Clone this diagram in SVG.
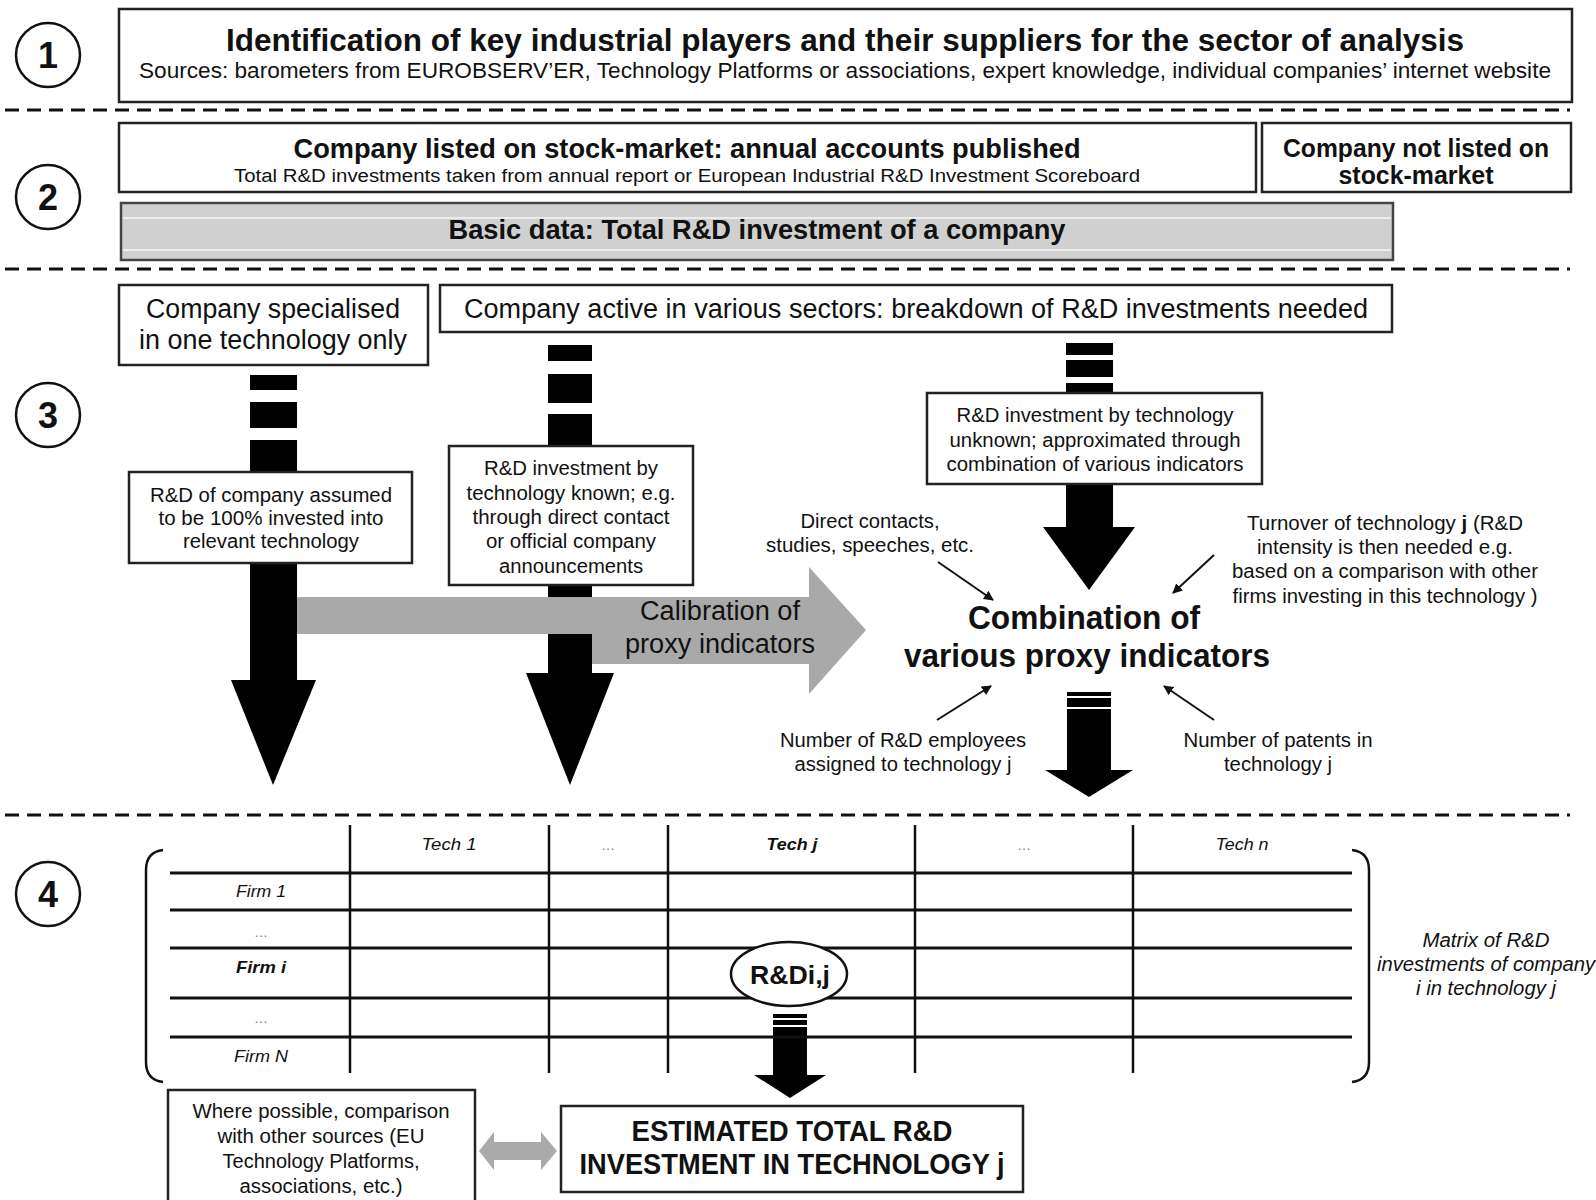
<svg xmlns="http://www.w3.org/2000/svg" width="1596" height="1200" viewBox="0 0 1596 1200">
<defs>
<marker id="ah" viewBox="0 0 10 10" refX="9" refY="5" markerWidth="5" markerHeight="5" orient="auto"><path d="M0,0 L10,5 L0,10 z" fill="#111"/></marker>
</defs>
<style>
text{font-family:"Liberation Sans",Arial,sans-serif;fill:#111;text-anchor:middle}
.box{fill:#fff;stroke:#222;stroke-width:2.5}
.b{font-weight:bold}
.i{font-style:italic}
.dash{stroke:#111;stroke-width:3;stroke-dasharray:14 8;fill:none}
.num{fill:#fff;stroke:#111;stroke-width:2.5}
.blk{fill:#000}
.hl{stroke:#111;stroke-width:3}
.vl{stroke:#111;stroke-width:2.5}
.sa{stroke:#111;stroke-width:2;marker-end:url(#ah)}
.dots{fill:#777}
</style>
<rect width="1596" height="1200" fill="#fff"/>

<g id="separators">
<line class="dash" x1="5" y1="110" x2="1570" y2="110"/>
<line class="dash" x1="5" y1="269" x2="1570" y2="269"/>
<line class="dash" x1="5" y1="815" x2="1570" y2="815"/>
</g>

<g id="step-numbers">
<circle class="num" cx="48" cy="55" r="32"/><text class="b" x="48" y="68" font-size="36">1</text>
<circle class="num" cx="48" cy="197" r="32"/><text class="b" x="48" y="210" font-size="36">2</text>
<circle class="num" cx="48" cy="415" r="32"/><text class="b" x="48" y="428" font-size="36">3</text>
<circle class="num" cx="48" cy="894" r="32"/><text class="b" x="48" y="907" font-size="36">4</text>
</g>

<g id="connectors">
<rect class="blk" x="250" y="375" width="47" height="15"/>
<rect class="blk" x="250" y="402" width="47" height="26"/>
<rect class="blk" x="250" y="440" width="47" height="241"/>
<polygon class="blk" points="231,680 316,680 273,785"/>
<rect class="blk" x="548" y="345" width="44" height="16"/>
<rect class="blk" x="548" y="374" width="44" height="29"/>
<rect class="blk" x="548" y="414" width="44" height="260"/>
<polygon class="blk" points="526,673 614,673 570,785"/>
<rect class="blk" x="1066" y="343" width="47" height="12"/>
<rect class="blk" x="1066" y="360" width="47" height="17"/>
<rect class="blk" x="1066" y="383" width="47" height="145"/>
<polygon class="blk" points="1043,527 1135,527 1089,590"/>
<rect class="blk" x="1067" y="692" width="44" height="4"/>
<rect class="blk" x="1067" y="698" width="44" height="9"/>
<rect class="blk" x="1067" y="709" width="44" height="62"/>
<polygon class="blk" points="1045,770 1133,770 1089,797"/>
<rect class="blk" x="773" y="1014" width="34" height="4"/>
<rect class="blk" x="773" y="1020" width="34" height="5"/>
<rect class="blk" x="773" y="1027" width="34" height="49"/>
<polygon class="blk" points="754,1075 826,1075 790,1098"/>
<polygon fill="#a9a9a9" points="297,597 809,597 809,567 866,630 809,694 809,664 592,664 592,634 297,634"/>
<line class="sa" x1="938" y1="562" x2="993" y2="600"/>
<line class="sa" x1="1214" y1="555" x2="1173" y2="593"/>
<line class="sa" x1="937" y1="720" x2="991" y2="686"/>
<line class="sa" x1="1214" y1="720" x2="1164" y2="686"/>
<polygon fill="#aaaaaa" points="479,1151 494,1132 494,1142 541,1142 541,1132 557,1151 541,1170 541,1160 494,1160 494,1170"/>
</g>

<g id="step1">
<rect class="box" x="119" y="9" width="1453" height="93"/>
<text class="b" x="845" y="51" font-size="32" textLength="1238" lengthAdjust="spacingAndGlyphs">Identification of key industrial players and their suppliers for the sector of analysis</text>
<text x="845" y="78" font-size="22" textLength="1412" lengthAdjust="spacingAndGlyphs">Sources: barometers from EUROBSERV’ER, Technology Platforms or associations, expert knowledge, individual companies’ internet website</text>
</g>

<g id="listed">
<rect class="box" x="119" y="123" width="1137" height="69"/>
<text class="b" x="687" y="158" font-size="27" textLength="787" lengthAdjust="spacingAndGlyphs">Company listed on stock-market: annual accounts published</text>
<text x="687" y="182" font-size="18" textLength="906" lengthAdjust="spacingAndGlyphs">Total R&amp;D investments taken from annual report or European Industrial R&amp;D Investment Scoreboard</text>
</g>

<g id="not-listed">
<rect class="box" x="1262" y="123" width="309" height="69"/>
<text class="b" x="1416" y="157" font-size="25" textLength="266" lengthAdjust="spacingAndGlyphs">Company not listed on</text>
<text class="b" x="1416" y="184" font-size="25" textLength="155" lengthAdjust="spacingAndGlyphs">stock-market</text>
</g>

<g id="basic-data">
<rect x="121" y="203" width="1272" height="57" fill="#d0d0d0" stroke="#444" stroke-width="2.5"/>
<line x1="123" y1="218" x2="1391" y2="218" stroke="#ececec" stroke-width="2"/>
<line x1="123" y1="250" x2="1391" y2="250" stroke="#ececec" stroke-width="2"/>
<text class="b" x="757" y="239" font-size="27" textLength="617" lengthAdjust="spacingAndGlyphs">Basic data: Total R&amp;D investment of a company</text>
</g>

<g id="specialised">
<rect class="box" x="119" y="285" width="309" height="80"/>
<text x="273" y="318" font-size="27" textLength="254" lengthAdjust="spacingAndGlyphs">Company specialised</text>
<text x="273" y="349" font-size="27" textLength="268" lengthAdjust="spacingAndGlyphs">in one technology only</text>
</g>

<g id="various-sectors">
<rect class="box" x="440" y="285" width="952" height="47"/>
<text x="916" y="318" font-size="27" textLength="904" lengthAdjust="spacingAndGlyphs">Company active in various sectors: breakdown of R&amp;D investments needed</text>
</g>

<g id="assumed-100">
<rect class="box" x="129" y="472" width="283" height="91"/>
<text x="271" y="502" font-size="20" textLength="242" lengthAdjust="spacingAndGlyphs">R&amp;D of company assumed</text>
<text x="271" y="525" font-size="20" textLength="225" lengthAdjust="spacingAndGlyphs">to be 100% invested into</text>
<text x="271" y="548" font-size="20" textLength="176" lengthAdjust="spacingAndGlyphs">relevant technology</text>
</g>

<g id="known">
<rect class="box" x="449" y="446" width="244" height="139"/>
<text x="571" y="475" font-size="20" textLength="174" lengthAdjust="spacingAndGlyphs">R&amp;D investment by</text>
<text x="571" y="500" font-size="20" textLength="209" lengthAdjust="spacingAndGlyphs">technology known; e.g.</text>
<text x="571" y="524" font-size="20" textLength="197" lengthAdjust="spacingAndGlyphs">through direct contact</text>
<text x="571" y="548" font-size="20" textLength="170" lengthAdjust="spacingAndGlyphs">or official company</text>
<text x="571" y="573" font-size="20" textLength="144" lengthAdjust="spacingAndGlyphs">announcements</text>
</g>

<g id="unknown">
<rect class="box" x="927" y="393" width="335" height="91"/>
<text x="1095" y="422" font-size="20" textLength="277" lengthAdjust="spacingAndGlyphs">R&amp;D investment by technology</text>
<text x="1095" y="447" font-size="20" textLength="291" lengthAdjust="spacingAndGlyphs">unknown; approximated through</text>
<text x="1095" y="471" font-size="20" textLength="297" lengthAdjust="spacingAndGlyphs">combination of various indicators</text>
</g>

<g id="calibration">
<text x="720" y="620" font-size="27" textLength="160" lengthAdjust="spacingAndGlyphs">Calibration of</text>
<text x="720" y="653" font-size="27" textLength="190" lengthAdjust="spacingAndGlyphs">proxy indicators</text>
</g>

<g id="combination">
<text class="b" x="1084" y="629" font-size="33" textLength="232" lengthAdjust="spacingAndGlyphs">Combination of</text>
<text class="b" x="1087" y="667" font-size="33" textLength="366" lengthAdjust="spacingAndGlyphs">various proxy indicators</text>
</g>

<g id="direct-contacts">
<text x="870" y="528" font-size="20" textLength="139" lengthAdjust="spacingAndGlyphs">Direct contacts,</text>
<text x="870" y="552" font-size="20" textLength="208" lengthAdjust="spacingAndGlyphs">studies, speeches, etc.</text>
</g>

<g id="turnover">
<text x="1385" y="530" font-size="20" textLength="276" lengthAdjust="spacingAndGlyphs">Turnover of technology <tspan class="b">j</tspan> (R&amp;D</text>
<text x="1385" y="554" font-size="20" textLength="256" lengthAdjust="spacingAndGlyphs">intensity is then needed e.g.</text>
<text x="1385" y="578" font-size="20" textLength="306" lengthAdjust="spacingAndGlyphs">based on a comparison with other</text>
<text x="1385" y="603" font-size="20" textLength="305" lengthAdjust="spacingAndGlyphs">firms investing in this technology )</text>
</g>

<g id="employees">
<text x="903" y="747" font-size="20" textLength="246" lengthAdjust="spacingAndGlyphs">Number of R&amp;D employees</text>
<text x="903" y="771" font-size="20" textLength="217" lengthAdjust="spacingAndGlyphs">assigned to technology j</text>
</g>

<g id="patents">
<text x="1278" y="747" font-size="20" textLength="189" lengthAdjust="spacingAndGlyphs">Number of patents in</text>
<text x="1278" y="771" font-size="20" textLength="108" lengthAdjust="spacingAndGlyphs">technology j</text>
</g>

<g id="matrix">
<path d="M163,850 Q146,852 146,870 L146,1062 Q146,1080 163,1082" fill="none" stroke="#111" stroke-width="2.5"/>
<path d="M1352,850 Q1369,852 1369,870 L1369,1062 Q1369,1080 1352,1082" fill="none" stroke="#111" stroke-width="2.5"/>
<line class="vl" x1="350" y1="825" x2="350" y2="1073"/>
<line class="vl" x1="549" y1="825" x2="549" y2="1073"/>
<line class="vl" x1="668" y1="825" x2="668" y2="1073"/>
<line class="vl" x1="915" y1="825" x2="915" y2="1073"/>
<line class="vl" x1="1133" y1="825" x2="1133" y2="1073"/>
<line class="hl" x1="170" y1="873" x2="1352" y2="873"/>
<line class="hl" x1="170" y1="910" x2="1352" y2="910"/>
<line class="hl" x1="170" y1="948" x2="1352" y2="948"/>
<line class="hl" x1="170" y1="998" x2="1352" y2="998"/>
<line class="hl" x1="170" y1="1037" x2="1352" y2="1037"/>
<text class="i" x="449" y="850" font-size="17" textLength="55" lengthAdjust="spacingAndGlyphs">Tech 1</text>
<text class="dots" x="608" y="850" font-size="14">…</text>
<text class="i b" x="792" y="850" font-size="17" textLength="51" lengthAdjust="spacingAndGlyphs">Tech j</text>
<text class="dots" x="1024" y="850" font-size="14">…</text>
<text class="i" x="1242" y="850" font-size="17" textLength="53" lengthAdjust="spacingAndGlyphs">Tech n</text>
<text class="i" x="261" y="897" font-size="17" textLength="50" lengthAdjust="spacingAndGlyphs">Firm 1</text>
<text class="dots" x="261" y="937" font-size="14">…</text>
<text class="i b" x="261" y="973" font-size="17" textLength="50" lengthAdjust="spacingAndGlyphs">Firm i</text>
<text class="dots" x="261" y="1023" font-size="14">…</text>
<text class="i" x="261" y="1062" font-size="17" textLength="54" lengthAdjust="spacingAndGlyphs">Firm N</text>
</g>

<g id="rd-ij">
<ellipse cx="789" cy="974" rx="58" ry="32" fill="#fff" stroke="#111" stroke-width="2.5"/>
<text class="b" x="790" y="984" font-size="25" textLength="80" lengthAdjust="spacingAndGlyphs">R&amp;Di,j</text>
</g>

<g id="matrix-label">
<text class="i" x="1486" y="947" font-size="20" textLength="127" lengthAdjust="spacingAndGlyphs">Matrix of R&amp;D</text>
<text class="i" x="1486" y="971" font-size="20" textLength="218" lengthAdjust="spacingAndGlyphs">investments of company</text>
<text class="i" x="1486" y="995" font-size="20" textLength="140" lengthAdjust="spacingAndGlyphs">i in technology j</text>
</g>

<g id="estimated-total">
<rect class="box" x="561" y="1106" width="462" height="86"/>
<text class="b" x="792" y="1141" font-size="29" textLength="321" lengthAdjust="spacingAndGlyphs">ESTIMATED TOTAL R&amp;D</text>
<text class="b" x="792" y="1174" font-size="29" textLength="425" lengthAdjust="spacingAndGlyphs">INVESTMENT IN TECHNOLOGY j</text>
</g>

<g id="comparison">
<rect class="box" x="168" y="1090" width="307" height="125"/>
<text x="321" y="1118" font-size="20" textLength="257" lengthAdjust="spacingAndGlyphs">Where possible, comparison</text>
<text x="321" y="1143" font-size="20" textLength="207" lengthAdjust="spacingAndGlyphs">with other sources (EU</text>
<text x="321" y="1168" font-size="20" textLength="197" lengthAdjust="spacingAndGlyphs">Technology Platforms,</text>
<text x="321" y="1193" font-size="20" textLength="163" lengthAdjust="spacingAndGlyphs">associations, etc.)</text>
</g>
</svg>
